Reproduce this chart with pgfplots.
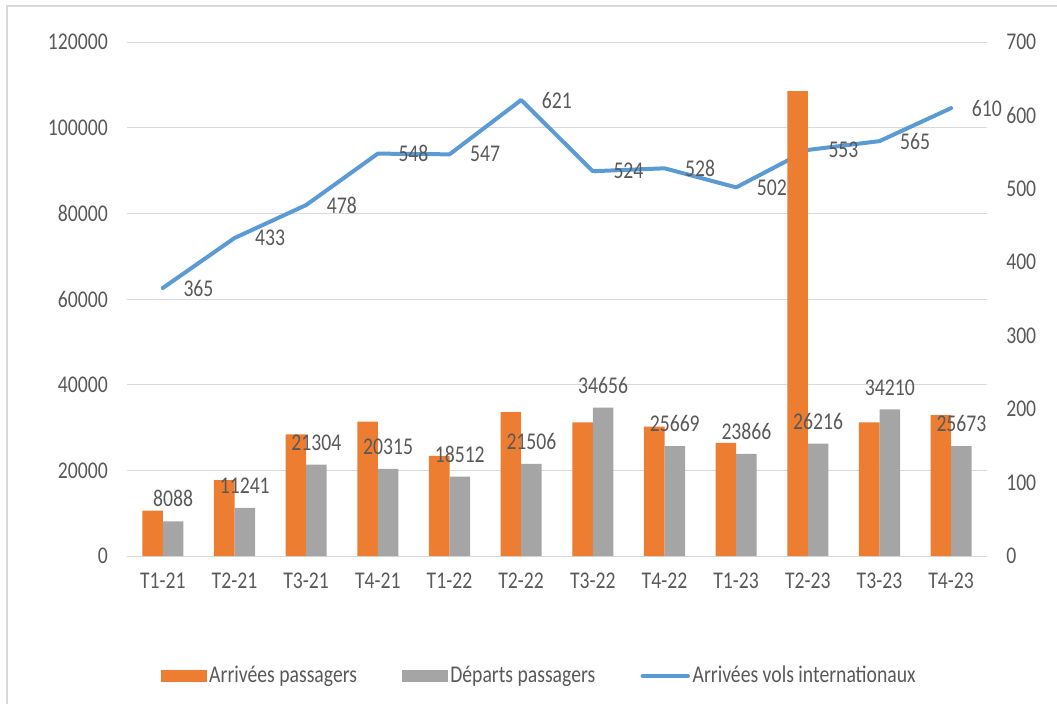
\documentclass[border=0pt]{standalone}
\usepackage{fontspec}
\setmainfont{Carlito}[FakeStretch=0.82]
\usepackage{pgfplots}
\pgfplotsset{compat=1.18}
\definecolor{cOrange}{HTML}{ED7D31}
\definecolor{cGray}{HTML}{A5A5A5}
\definecolor{cBlue}{HTML}{5B9BD5}
\definecolor{cText}{HTML}{595959}
\definecolor{cGrid}{HTML}{D9D9D9}
\pgfplotsset{/pgf/number format/.cd, assume math mode=true, 1000 sep={}, fixed, precision=0}
\begin{document}
\fontsize{18pt}{21pt}\selectfont
\begin{tikzpicture}
\path[use as bounding box] (0,0) rectangle (792.75pt,528pt);
\draw[cGrid, line width=1.5pt] (5.25pt,0) -- (5.25pt,523.5pt) -- (792.75pt,523.5pt);
% line axis (secondary, drawn first so bars cover it)
\begin{axis}[
  at={(95.25pt,111pt)}, anchor=south west,
  scale only axis, width=645pt, height=385.5pt,
  xmin=-0.5, xmax=11.5, ymin=0, ymax=700,
  enlargelimits=false,
  axis x line=none, axis y line*=right,
  y axis line style={draw=none},
  ytick={0,100,...,700},
  major tick length=0pt,
  yticklabel style={anchor=west, inner sep=0pt, xshift=14.25pt, text=cText},
  extra y ticks={0,116.6667,233.3333,350,466.6667,583.3333,700},
  extra y tick labels={},
  extra y tick style={grid=major},
  grid style={cGrid, line width=0.75pt},
  clip=false,
]
\addplot[cBlue, line width=3pt, line join=round, line cap=round, mark=none,
  nodes near coords,
  every node near coord/.append style={anchor=west, inner sep=0pt, xshift=14pt, text=cText}]
  coordinates {(0,365) (1,433) (2,478) (3,548) (4,547) (5,621) (6,524) (7,528) (8,502) (9,553) (10,565) (11,610)};
\end{axis}
% bar axis (primary)
\begin{axis}[
  at={(95.25pt,111pt)}, anchor=south west,
  scale only axis, width=645pt, height=385.5pt,
  xmin=-0.5, xmax=11.5, ymin=0, ymax=120000,
  enlargelimits=false,
  ybar=0pt, bar width=15.4pt,
  axis line style={draw=none},
  major tick length=0pt,
  xtick={0,...,11},
  xticklabels={T1-21,T2-21,T3-21,T4-21,T1-22,T2-22,T3-22,T4-22,T1-23,T2-23,T3-23,T4-23},
  ytick={0,20000,...,120000},
  scaled y ticks=false,
  yticklabel style={anchor=east, inner sep=0pt, xshift=-14.25pt, text=cText},
  xticklabel style={anchor=north, inner sep=0pt, yshift=-12.75pt, text=cText},
  legend style={at={(0.480,-0.2335)}, anchor=center, draw=none, fill=none,
    legend columns=3,
    /tikz/every even column/.append style={column sep=32pt},
    nodes={inner xsep=2pt, inner ysep=0pt, text=cText}},
  clip=false,
]
\addplot[fill=cOrange, draw=none,
  legend image code/.code={\fill[cOrange] (0pt,-4.5pt) rectangle (34pt,4.5pt);}]
  coordinates {(0,10600) (1,17700) (2,28400) (3,31350) (4,23400) (5,33600) (6,31200) (7,30200) (8,26400) (9,108550) (10,31200) (11,32900)};
\addplot[fill=cGray, draw=none,
  nodes near coords,
  every node near coord/.append style={anchor=south, inner sep=0pt, yshift=10.5pt, text=cText},
  legend image code/.code={\fill[cGray] (0pt,-4.5pt) rectangle (34pt,4.5pt);}]
  coordinates {(0,8088) (1,11241) (2,21304) (3,20315) (4,18512) (5,21506) (6,34656) (7,25669) (8,23866) (9,26216) (10,34210) (11,25673)};
\addlegendimage{legend image code/.code={\draw[cBlue, line width=3pt, line cap=round] (0pt,0pt) -- (34pt,0pt);}}
\legend{Arrivées passagers, Départs passagers, Arrivées vols internationaux}
\end{axis}
\end{tikzpicture}
\end{document}
